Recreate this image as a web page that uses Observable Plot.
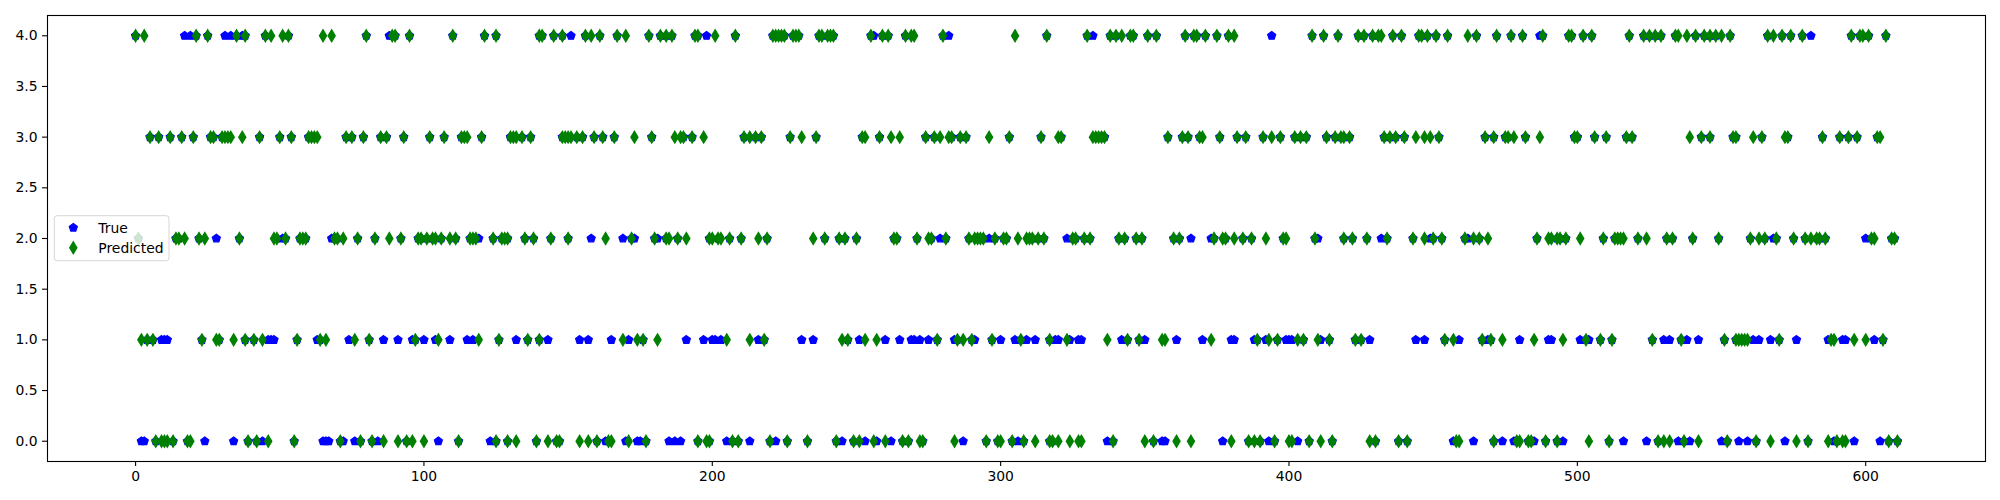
<!DOCTYPE html>
<html>
<head>
<meta charset="utf-8">
<script src="https://cdn.jsdelivr.net/npm/d3@7"></script>
<script src="https://cdn.jsdelivr.net/npm/@observablehq/plot@0.6"></script>
<style>
html, body { margin: 0; padding: 0; background: #fff; }
#chart { width: 2000px; height: 500px; }
</style>
</head>
<body>
<div id="chart"></div>
<script>
// ---- Data (sample index per class) ----
const classes = [0, 1, 2, 3, 4];
const xTicks = [0, 100, 200, 300, 400, 500, 600];
const yTicks = [0, 0.5, 1, 1.5, 2, 2.5, 3, 3.5, 4];
const legendLabels = ["True", "Predicted"];

// indices predicted as each class
const pred0 = [7, 9, 10, 11, 13, 18, 19, 39, 42, 46, 55, 71, 78, 82, 86, 91, 94, 96, 100, 112, 125, 129, 132, 139, 143, 146, 147, 154, 157, 160, 164, 165, 171, 177, 195, 198, 199, 207, 209, 220, 226, 233, 243, 249, 251, 256, 260, 266, 268, 272, 273, 284, 295, 299, 300, 304, 308, 312, 317, 318, 320, 324, 327, 328, 339, 350, 353, 361, 366, 380, 386, 388, 390, 395, 400, 401, 407, 411, 415, 428, 430, 438, 441, 458, 459, 471, 479, 480, 483, 484, 489, 493, 504, 511, 528, 530, 532, 537, 542, 552, 562, 567, 576, 580, 587, 590, 592, 593, 608, 611];
const pred1 = [2, 4, 6, 23, 28, 29, 34, 38, 41, 44, 56, 64, 66, 76, 81, 97, 105, 119, 126, 136, 140, 169, 174, 176, 181, 205, 213, 218, 245, 247, 253, 257, 278, 285, 287, 290, 297, 307, 317, 323, 337, 344, 348, 356, 357, 373, 389, 393, 396, 403, 405, 410, 414, 423, 425, 454, 457, 467, 470, 474, 485, 495, 503, 508, 512, 526, 536, 551, 555, 556, 557, 558, 559, 570, 588, 589, 596, 600, 606];
const pred2 = [1, 14, 15, 17, 22, 24, 36, 48, 49, 52, 57, 58, 59, 69, 70, 72, 77, 83, 88, 92, 98, 99, 101, 103, 104, 106, 109, 111, 116, 117, 118, 124, 127, 128, 129, 135, 138, 144, 150, 163, 172, 180, 184, 185, 188, 191, 199, 200, 202, 203, 206, 210, 216, 219, 235, 239, 244, 246, 250, 263, 264, 271, 275, 276, 281, 289, 291, 292, 293, 294, 298, 301, 302, 306, 309, 310, 311, 313, 315, 325, 326, 329, 331, 341, 343, 347, 349, 360, 362, 374, 377, 378, 381, 384, 387, 392, 398, 399, 409, 419, 422, 427, 434, 443, 447, 450, 453, 461, 464, 466, 469, 486, 490, 491, 493, 494, 496, 501, 509, 513, 514, 515, 516, 521, 524, 531, 533, 540, 549, 560, 563, 565, 569, 575, 579, 581, 583, 584, 586, 602, 603, 609, 610];
const pred3 = [5, 8, 12, 16, 20, 26, 27, 30, 31, 32, 33, 37, 43, 50, 54, 60, 61, 62, 63, 73, 75, 79, 85, 87, 93, 102, 107, 113, 114, 115, 120, 130, 131, 132, 134, 137, 148, 149, 150, 151, 153, 155, 159, 162, 166, 173, 179, 187, 189, 190, 193, 197, 211, 213, 215, 217, 227, 231, 236, 252, 253, 258, 262, 265, 274, 277, 279, 282, 283, 286, 288, 296, 303, 314, 320, 321, 332, 333, 334, 335, 336, 358, 363, 365, 369, 370, 376, 382, 385, 391, 394, 397, 402, 404, 406, 413, 416, 418, 419, 421, 433, 435, 437, 440, 444, 447, 449, 452, 468, 471, 475, 476, 478, 482, 487, 499, 500, 506, 510, 517, 519, 539, 543, 546, 554, 555, 561, 564, 572, 573, 585, 591, 594, 597, 604, 605];
const pred4 = [0, 3, 21, 25, 35, 38, 45, 47, 51, 53, 65, 68, 80, 89, 90, 95, 110, 121, 125, 140, 141, 145, 148, 156, 158, 161, 167, 170, 178, 182, 184, 186, 194, 195, 201, 208, 221, 222, 223, 224, 225, 228, 229, 230, 237, 238, 240, 241, 242, 255, 259, 261, 267, 269, 270, 280, 305, 316, 330, 338, 340, 342, 345, 346, 351, 354, 364, 367, 368, 371, 375, 379, 381, 408, 412, 417, 424, 426, 429, 431, 432, 436, 439, 445, 446, 448, 451, 455, 462, 465, 472, 477, 481, 488, 497, 498, 502, 505, 518, 523, 525, 527, 529, 534, 535, 538, 541, 544, 546, 548, 550, 553, 566, 568, 571, 574, 578, 595, 598, 599, 601, 607];

// indices whose true class differs from the prediction (true class = list)
const missed0 = [2, 3, 24, 34, 44, 65, 66, 67, 72, 76, 84, 105, 123, 163, 170, 174, 175, 185, 187, 189, 205, 213, 222, 245, 253, 257, 262, 287, 306, 337, 356, 357, 377, 393, 403, 457, 464, 474, 478, 485, 495, 516, 524, 535, 539, 550, 556, 559, 572, 589, 596, 605];
const missed1 = [9, 10, 11, 46, 47, 48, 63, 74, 86, 91, 96, 100, 104, 109, 115, 117, 132, 143, 154, 157, 165, 171, 191, 197, 200, 201, 203, 216, 231, 235, 251, 260, 265, 269, 270, 272, 275, 284, 291, 300, 305, 309, 312, 319, 320, 324, 327, 328, 342, 350, 361, 370, 380, 381, 388, 392, 399, 400, 401, 411, 428, 444, 447, 459, 469, 480, 490, 491, 501, 504, 530, 532, 538, 542, 561, 563, 567, 576, 587, 592, 593, 603];
const missed2 = [28, 51, 68, 119, 158, 169, 173, 181, 279, 296, 323, 366, 373, 410, 432, 449, 462, 568, 600];
const missed3 = [];
const missed4 = [17, 19, 31, 33, 37, 88, 151, 198, 256, 282, 332, 394, 487, 581];

// ---- Build records ----
const predLists = [pred0, pred1, pred2, pred3, pred4];
const missedLists = [missed0, missed1, missed2, missed3, missed4];
const missedAll = new Set(missedLists.flat());
const predRecords = classes.flatMap(c => predLists[c].map(i => ({x: i, y: c})));
const trueRecords = classes.flatMap(c => [
  ...predLists[c].filter(i => !missedAll.has(i)).map(i => ({x: i, y: c})),
  ...missedLists[c].map(i => ({x: i, y: c}))
]);

// ---- Marker shapes (matplotlib 'p' and 'd') ----
const pentagon = {
  draw(ctx, size) {
    const r = Math.sqrt(size / Math.PI);
    for (let k = 0; k < 5; k++) {
      const a = -Math.PI / 2 + k * 2 * Math.PI / 5;
      const px = r * Math.cos(a), py = r * Math.sin(a);
      if (k === 0) ctx.moveTo(px, py); else ctx.lineTo(px, py);
    }
    ctx.closePath();
  }
};
const thinDiamond = {
  draw(ctx, size) {
    const r = Math.sqrt(size / Math.PI);
    ctx.moveTo(0, -r);
    ctx.lineTo(0.6 * r, 0);
    ctx.lineTo(0, r);
    ctx.lineTo(-0.6 * r, 0);
    ctx.closePath();
  }
};

const blue = "#0000ff", green = "#008000";
const rPent = 4.17, rDiam = 5.9;

const chart = Plot.plot({
  width: 2000,
  height: 500,
  marginLeft: 47,
  marginRight: 15,
  marginTop: 15,
  marginBottom: 39,
  x: {domain: [-30.55, 641.55], label: null},
  y: {domain: [-0.2, 4.2], label: null},
  style: {fontFamily: "'DejaVu Sans', sans-serif", fontSize: "13.9px", color: "black", background: "white", overflow: "visible"},
  marks: [
    Plot.dot(trueRecords, {x: "x", y: "y", symbol: pentagon, r: rPent, fill: blue, stroke: blue, strokeWidth: 1.33}),
    Plot.dot(predRecords, {x: "x", y: "y", symbol: thinDiamond, r: rDiam, fill: green, stroke: green, strokeWidth: 1.33}),
    Plot.axisX({ticks: xTicks, tickSize: 5, tickPadding: 5, label: null, strokeWidth: 1.1}),
    Plot.axisY({ticks: yTicks, tickSize: 5, tickPadding: 5, tickFormat: d3.format(".1f"), label: null, strokeWidth: 1.1}),
    Plot.frame({stroke: "black", strokeWidth: 1.1})
  ]
});

// ---- Legend (inside the axes, like matplotlib's "best") ----
const svg = d3.select(chart);
const lg = svg.append("g")
  .style("font-family", "'DejaVu Sans', sans-serif")
  .style("font-size", "13.9px")
  .style("text-anchor", "start");
lg.append("rect")
  .attr("x", 54.3).attr("y", 215.7).attr("width", 114.7).attr("height", 45)
  .attr("rx", 2.8).attr("fill", "white").attr("fill-opacity", 0.8)
  .attr("stroke", "#cccccc").attr("stroke-opacity", 0.8).attr("stroke-width", 1);
const legendItems = [
  {label: legendLabels[0], sym: pentagon, r: rPent, color: blue, cy: 227.7},
  {label: legendLabels[1], sym: thinDiamond, r: rDiam, color: green, cy: 247.7}
];
for (const it of legendItems) {
  lg.append("path")
    .attr("transform", `translate(73.3,${it.cy})`)
    .attr("d", d3.symbol(it.sym, it.r * it.r * Math.PI)())
    .attr("fill", it.color).attr("stroke", it.color).attr("stroke-width", 1.33);
  lg.append("text")
    .attr("x", 98.3).attr("y", it.cy).attr("dy", "0.35em")
    .style("text-anchor", "start")
    .attr("fill", "black")
    .text(it.label);
}

document.getElementById("chart").appendChild(chart);
</script>
</body>
</html>
